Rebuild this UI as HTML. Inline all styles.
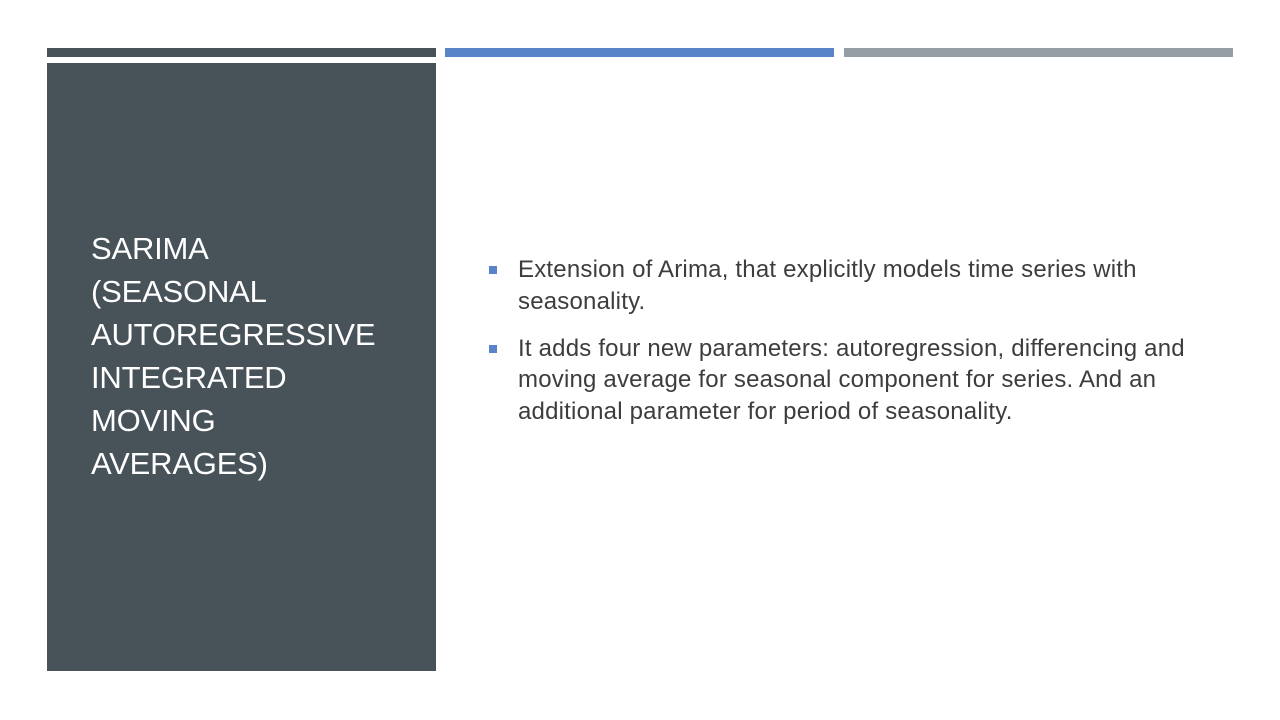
<!DOCTYPE html>
<html><head><style>
body{margin:0;width:1280px;height:720px;background:#fff;position:relative;overflow:hidden;font-family:"Liberation Sans",sans-serif}
.bar{position:absolute;top:48px;height:9px}
.panel{position:absolute;left:47px;top:63px;width:389px;height:608px;background:#475359}
.title{position:absolute;left:91px;top:227px;color:#fff;font-size:31px;line-height:43px;letter-spacing:-0.2px}
ul{position:absolute;left:488px;top:254px;margin:0;padding:0;list-style:none;color:#3d3d3d;font-size:24px;line-height:31.5px;white-space:nowrap;letter-spacing:0.2px}
li{position:relative;padding-left:30px;margin-bottom:15.5px}
li:before{content:"";position:absolute;left:1px;top:12px;width:8px;height:8px;background:#5a84c8}
</style></head><body>
<div class="bar" style="left:47px;width:389px;background:#475359"></div>
<div class="bar" style="left:445px;width:389px;background:#5a84c8"></div>
<div class="bar" style="left:844px;width:389px;background:#969ea5"></div>
<div class="panel"></div>
<div class="title">SARIMA<br>(SEASONAL<br>AUTOREGRESSIVE<br>INTEGRATED<br>MOVING<br>AVERAGES)</div>
<ul>
<li>Extension of Arima, that explicitly models time series with<br>seasonality.</li>
<li>It adds four new parameters: autoregression, differencing and<br>moving average for seasonal component for series. And an<br>additional parameter for period of seasonality.</li>
</ul>
</body></html>
